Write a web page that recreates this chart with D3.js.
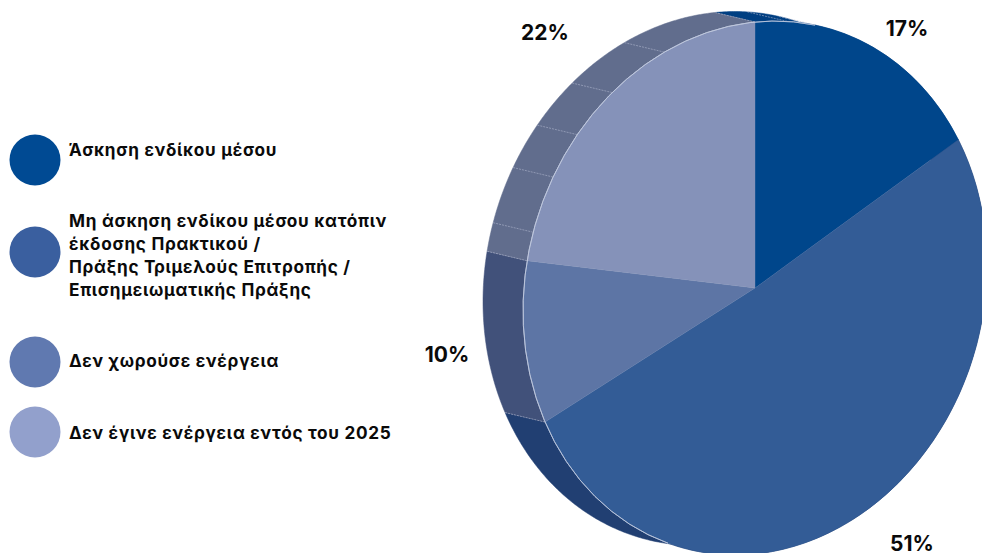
<!DOCTYPE html>
<html>
<head>
<meta charset="utf-8">
<style>
  html, body { margin: 0; padding: 0; background: #fff; }
  svg { display: block; }
  text { font-family: Inter, "Noto Sans", sans-serif; font-weight: 700; fill: #0a0a0a; }
</style>
</head>
<body>
<svg width="982" height="553"></svg>
<script src="https://d3js.org/d3.v7.min.js"></script>
<script>
var categories = [
  ["Άσκηση ενδίκου μέσου"],
  ["Μη άσκηση ενδίκου μέσου κατόπιν", "έκδοσης Πρακτικού /", "Πράξης Τριμελούς Επιτροπής /", "Επισημειωματικής Πράξης"],
  ["Δεν χωρούσε ενέργεια"],
  ["Δεν έγινε ενέργεια εντός του 2025"]
];
var values = [17, 51, 10, 22];
var topColors = ["#00468b", "#335c96", "#5d75a5", "#8592b9"];
var sideColors = ["#003f82", "#213f72", "#41517a", "#616d8d"];
var legendColors = ["#004a93", "#3a5f9f", "#6079b0", "#92a0cc"];
// seams on the side wall, in degrees round the pie
var seams = [8, 16, 287, 299.5, 310, 322, 337];

var svg = d3.select("svg");

// the pie is a tilted disc: plain d3 arc of radius R, then sheared into place
var R = 266, cx = 755, cy = 288;
var ux = 232, uy = -23;
var depthX = -40, depthY = -9.5;
var faceTransform = "matrix(" + (ux / R) + "," + (uy / R) + ",0,1," + cx + "," + cy + ")";

var pie = d3.pie().sort(null).value(function(d) { return d; });
var slices = pie(values);
var arc = d3.arc().innerRadius(0).outerRadius(R);
// light edge only where the face meets the wall
var rim = d3.arc().innerRadius(R).outerRadius(R)
  .startAngle(202 * Math.PI / 180).endAngle(375 * Math.PI / 180);

function rimPoint(a, dx, dy) {
  return [cx + Math.sin(a) * ux + dx, cy + Math.sin(a) * uy - Math.cos(a) * R + dy];
}

// side wall of a slice: the rim and the same rim pushed back
function wallPath(d) {
  var steps = d3.range(d.startAngle, d.endAngle, 0.01).concat([d.endAngle]);
  var front = steps.map(function(a) { return rimPoint(a, 0, 0); });
  var back = steps.slice().reverse().map(function(a) { return rimPoint(a, depthX, depthY); });
  return d3.line()(front.concat(back)) + "Z";
}

svg.append("g").selectAll("path")
  .data(slices)
  .enter().append("path")
  .attr("d", wallPath)
  .attr("fill", function(d, i) { return sideColors[i]; })
  .attr("stroke", function(d, i) { return sideColors[i]; })
  .attr("stroke-width", 0.5);

svg.append("g").selectAll("line")
  .data(seams.concat([0, 244.8, 280.8]))
  .enter().append("line")
  .each(function(d) {
    var a = d * Math.PI / 180, p0 = rimPoint(a, 0, 0), p1 = rimPoint(a, depthX, depthY);
    d3.select(this).attr("x1", p0[0]).attr("y1", p0[1]).attr("x2", p1[0]).attr("y2", p1[1]);
  })
  .attr("stroke", "#aeb6cc")
  .attr("stroke-width", 0.6)
  .attr("stroke-dasharray", "2 1");

var face = svg.append("g").attr("transform", faceTransform);

face.selectAll("path.slice")
  .data(slices)
  .enter().append("path")
  .attr("class", "slice")
  .attr("d", arc)
  .attr("fill", function(d, i) { return topColors[i]; })
  .attr("stroke", function(d, i) { return topColors[i]; })
  .attr("stroke-width", 0.4);

face.append("path")
  .attr("d", rim())
  .attr("fill", "none")
  .attr("stroke", "#c3cbdf")
  .attr("stroke-width", 0.7)
  .attr("vector-effect", "non-scaling-stroke");

// percent labels
var labelPos = [[907, 36], [912, 551], [447, 362], [545, 40]];
svg.append("g").selectAll("text")
  .data(values)
  .enter().append("text")
  .attr("x", function(d, i) { return labelPos[i][0]; })
  .attr("y", function(d, i) { return labelPos[i][1]; })
  .attr("text-anchor", "middle")
  .attr("font-size", 21)
  .text(function(d) { return d + "%"; });

// legend
var legendY = [160, 252, 362, 432];
var legendTextY = [-4, -25, 5, 6.5];
var legend = svg.append("g").selectAll("g")
  .data(categories)
  .enter().append("g")
  .attr("transform", function(d, i) { return "translate(35," + legendY[i] + ")"; });

legend.append("circle")
  .attr("r", 25.5)
  .attr("fill", function(d, i) { return legendColors[i]; });

legend.each(function(lines, i) {
  var g = d3.select(this);
  lines.forEach(function(line, j) {
    g.append("text")
      .attr("x", 34)
      .attr("y", legendTextY[i] + j * 23)
      .attr("font-size", 17.2)
      .attr("letter-spacing", 0.7)
      .text(line);
  });
});
</script>
</body>
</html>
